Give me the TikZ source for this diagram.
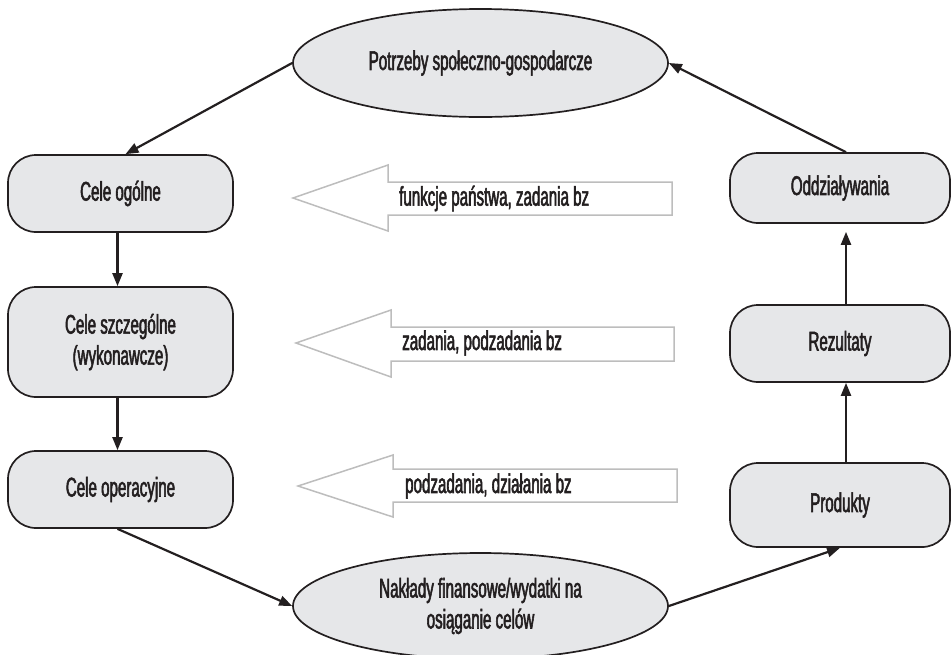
\documentclass[tikz,border=0pt]{standalone}
\usepackage{fontspec}
\setmainfont[FakeStretch=0.56,FakeBold=2]{Liberation Sans}
\usetikzlibrary{shapes.geometric,arrows.meta}
\definecolor{boxfill}{HTML}{E6E7E9}
\definecolor{ink}{HTML}{231F20}
\definecolor{hollowgray}{HTML}{BDBDBD}
\tikzset{
  txt/.style={font=\fontsize{27}{31}\selectfont, text=ink, align=center},
  ell/.style={ellipse, draw=ink, line width=1.7pt, fill=boxfill, txt, inner sep=0pt},
  rbox/.style={rectangle, rounded corners=28pt, draw=ink, line width=1.7pt, fill=boxfill, txt, inner sep=0pt},
  conn/.style={draw=ink, line width=2.2pt, -{Triangle[length=13pt,width=10pt]}},
  hollow/.style={draw=hollowgray, line width=1.5pt, fill=white, line join=miter},
  hlabel/.style={txt, anchor=west, inner sep=0pt}
}
\begin{document}
\begin{tikzpicture}[x=1pt,y=-1pt]
\useasboundingbox (0,0) rectangle (952,654);
% ellipses
\node[ell, minimum width=375pt, minimum height=108pt] (need) at (480.5,63) {Potrzeby społeczno-gospodarcze};
\node[ell, minimum width=375pt, minimum height=106pt] (input) at (480.5,606) {Nakłady finansowe/wydatki na\\osiąganie celów};
% left column
\node[rbox, minimum width=225pt, minimum height=77pt] (ogolne) at (120.5,193.5) {Cele ogólne};
\node[rbox, minimum width=225pt, minimum height=110pt] (szczeg) at (120.5,342) {Cele szczególne\\(wykonawcze)};
\node[rbox, minimum width=225pt, minimum height=77pt] (oper) at (120.5,489.5) {Cele operacyjne};
% right column
\node[rbox, minimum width=220pt, minimum height=70pt] (odd) at (840,188) {Oddziaływania};
\node[rbox, minimum width=220pt, minimum height=77pt] (rez) at (840,343.5) {Rezultaty};
\node[rbox, minimum width=220pt, minimum height=84pt] (prod) at (840,505) {Produkty};
% hollow arrows
\draw[hollow] (672,182) -- (388,182) -- (388,165) -- (293,198) -- (388,231) -- (388,215) -- (672,215) -- cycle;
\node[hlabel] (h1) at (399,198.5) {funkcje państwa, zadania bz};
\draw[hollow] (674,327) -- (391,327) -- (391,310) -- (296,343) -- (391,377) -- (391,361) -- (674,361) -- cycle;
\node[hlabel] (h2) at (402,343) {zadania, podzadania bz};
\draw[hollow] (677,469) -- (393,469) -- (393,455) -- (298,486) -- (393,517) -- (393,502) -- (677,502) -- cycle;
\node[hlabel] (h3) at (405,486) {podzadania, działania bz};
% connectors
\draw[conn] (need.west) -- ([xshift=5pt]ogolne.north);
\draw[conn] ([xshift=-3pt]ogolne.south) -- ([xshift=-3pt]szczeg.north);
\draw[conn] ([xshift=-3pt]szczeg.south) -- ([xshift=-3pt]oper.north);
\draw[conn] ([xshift=-3pt]oper.south) -- (input.west);
\draw[conn] (input.east) -- (prod.south);
\draw[conn] ([xshift=6pt]prod.north) -- ([xshift=6pt]rez.south);
\draw[conn] ([xshift=6pt]rez.north) -- ([xshift=6pt,yshift=-8pt]odd.south);
\draw[conn] ([xshift=6pt]odd.north) -- (need.east);
\end{tikzpicture}
\end{document}
